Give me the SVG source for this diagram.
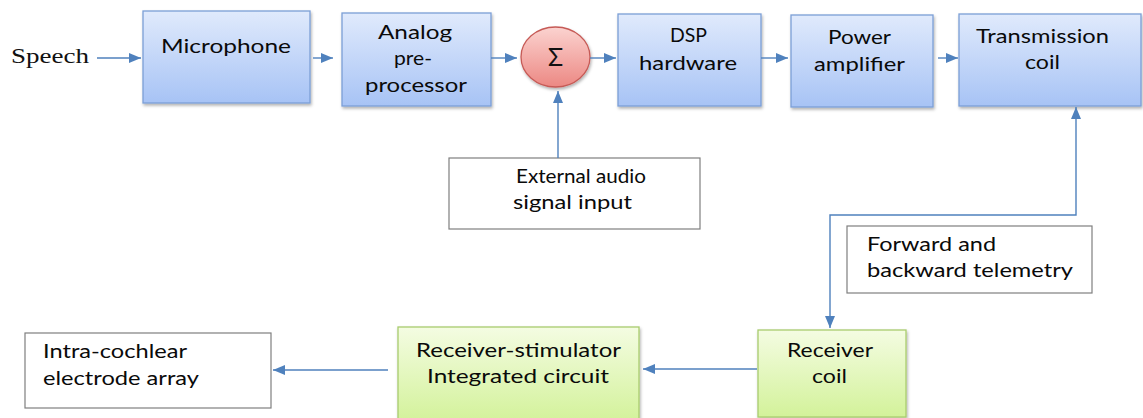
<svg xmlns="http://www.w3.org/2000/svg" width="1143" height="418" viewBox="0 0 1143 418">
<style>
.t{font-family:Lato,"Open Sans","Liberation Sans",sans-serif;font-size:18.5px;fill:#0a0a0a}
.blue{fill:url(#gb);stroke:#7c9fd6;stroke-width:1.3}
.green{fill:url(#gg);stroke:#a9cc6e;stroke-width:1.3}
.plain{fill:#fff;stroke:#7f7f7f;stroke-width:1.2}
.c{fill:none;stroke:#4f81bd;stroke-width:1.4}
</style>
<defs>
<linearGradient id="gb" x1="0" y1="0" x2="0" y2="1"><stop offset="0" stop-color="#e0eafc"/><stop offset="1" stop-color="#a7c3f5"/></linearGradient>
<linearGradient id="gg" x1="0" y1="0" x2="0" y2="1"><stop offset="0" stop-color="#f4fce2"/><stop offset="1" stop-color="#d3f29a"/></linearGradient>
<linearGradient id="gr" x1="0" y1="0" x2="0" y2="1"><stop offset="0" stop-color="#fbd3d0"/><stop offset="1" stop-color="#ec8883"/></linearGradient>
<filter id="sh" x="-10%" y="-10%" width="130%" height="130%"><feDropShadow dx="1" dy="2" stdDeviation="1.5" flood-color="#000" flood-opacity="0.3"/></filter>
<marker id="ar" markerUnits="userSpaceOnUse" markerWidth="13" markerHeight="11" refX="12" refY="5.5" orient="auto"><path d="M0,0.5 L12,5.5 L0,10.5 z" fill="#4f81bd"/></marker>
<marker id="as" markerUnits="userSpaceOnUse" markerWidth="13" markerHeight="11" refX="1" refY="5.5" orient="auto"><path d="M13,0.5 L1,5.5 L13,10.5 z" fill="#4f81bd"/></marker>
</defs>

<g id="speech"><text x="11" y="63" font-family="Liberation Serif,serif" font-size="20.5" fill="#111" textLength="78" lengthAdjust="spacingAndGlyphs">Speech</text></g>

<g id="microphone"><rect class="blue" x="143" y="11" width="167" height="92" filter="url(#sh)"/>
<text class="t" x="161" y="53" textLength="130" lengthAdjust="spacingAndGlyphs">Microphone</text></g>

<g id="analog"><rect class="blue" x="342" y="13" width="149" height="93" filter="url(#sh)"/>
<text class="t" x="378" y="39" textLength="74" lengthAdjust="spacingAndGlyphs">Analog</text>
<text class="t" x="394" y="65" textLength="38" lengthAdjust="spacingAndGlyphs">pre-</text>
<text class="t" x="365" y="92" textLength="102" lengthAdjust="spacingAndGlyphs">processor</text></g>

<g id="sum"><ellipse cx="555.5" cy="57" rx="34.5" ry="30" fill="url(#gr)" stroke="#c65a56" stroke-width="1.3" filter="url(#sh)"/>
<text x="555.5" y="66" text-anchor="middle" font-family="Lato,'Liberation Sans',sans-serif" font-size="25" fill="#111">Σ</text></g>

<g id="dsp"><rect class="blue" x="618" y="14" width="143" height="92" filter="url(#sh)"/>
<text class="t" x="670" y="42" textLength="37" lengthAdjust="spacingAndGlyphs">DSP</text>
<text class="t" x="639" y="70" textLength="98" lengthAdjust="spacingAndGlyphs">hardware</text></g>

<g id="power"><rect class="blue" x="791" y="15" width="142" height="92" filter="url(#sh)"/>
<text class="t" x="828" y="44" textLength="63" lengthAdjust="spacingAndGlyphs">Power</text>
<text class="t" x="814" y="71" textLength="91" lengthAdjust="spacingAndGlyphs">amplifier</text></g>

<g id="transmission"><rect class="blue" x="959" y="14" width="182" height="92" filter="url(#sh)"/>
<text class="t" x="976" y="43" textLength="133" lengthAdjust="spacingAndGlyphs">Transmission</text>
<text class="t" x="1025" y="69" textLength="35" lengthAdjust="spacingAndGlyphs">coil</text></g>

<g id="external"><rect class="plain" x="449" y="158" width="251" height="71"/>
<text class="t" x="516" y="183" textLength="130" lengthAdjust="spacingAndGlyphs">External audio</text>
<text class="t" x="513" y="209" textLength="119" lengthAdjust="spacingAndGlyphs">signal input</text></g>

<g id="telemetry"><rect class="plain" x="847" y="226" width="245" height="67"/>
<text class="t" x="867" y="251" textLength="129" lengthAdjust="spacingAndGlyphs">Forward and</text>
<text class="t" x="867" y="277" textLength="206" lengthAdjust="spacingAndGlyphs">backward telemetry</text></g>

<g id="intra"><rect class="plain" x="25" y="333" width="246" height="75"/>
<text class="t" x="43" y="358" textLength="144" lengthAdjust="spacingAndGlyphs">Intra-cochlear</text>
<text class="t" x="43" y="385" textLength="156" lengthAdjust="spacingAndGlyphs">electrode array</text></g>

<g id="stimulator"><rect class="green" x="398" y="327" width="241" height="95" filter="url(#sh)"/>
<text class="t" x="416" y="357" textLength="205" lengthAdjust="spacingAndGlyphs">Receiver-stimulator</text>
<text class="t" x="427" y="383" textLength="182" lengthAdjust="spacingAndGlyphs">Integrated circuit</text></g>

<g id="receiver"><rect class="green" x="758" y="330" width="148" height="87" filter="url(#sh)"/>
<text class="t" x="787" y="357" textLength="86" lengthAdjust="spacingAndGlyphs">Receiver</text>
<text class="t" x="812" y="383" textLength="35" lengthAdjust="spacingAndGlyphs">coil</text></g>

<g id="connectors">
<path class="c" d="M97,58 H141" marker-end="url(#ar)"/>
<path class="c" d="M313,58 H333" marker-end="url(#ar)"/>
<path class="c" d="M491,58 H517" marker-end="url(#ar)"/>
<path class="c" d="M590,58 H616" marker-end="url(#ar)"/>
<path class="c" d="M761,58 H788" marker-end="url(#ar)"/>
<path class="c" d="M938,58 H958" marker-end="url(#ar)"/>
<path class="c" d="M558,158 V91" marker-end="url(#ar)"/>
<path class="c" d="M830,328 V215 H1076 V107" marker-start="url(#as)" marker-end="url(#ar)"/>
<path class="c" d="M757,369 H643" marker-end="url(#ar)"/>
<path class="c" d="M388,370 H273" marker-end="url(#ar)"/>
</g>
</svg>
